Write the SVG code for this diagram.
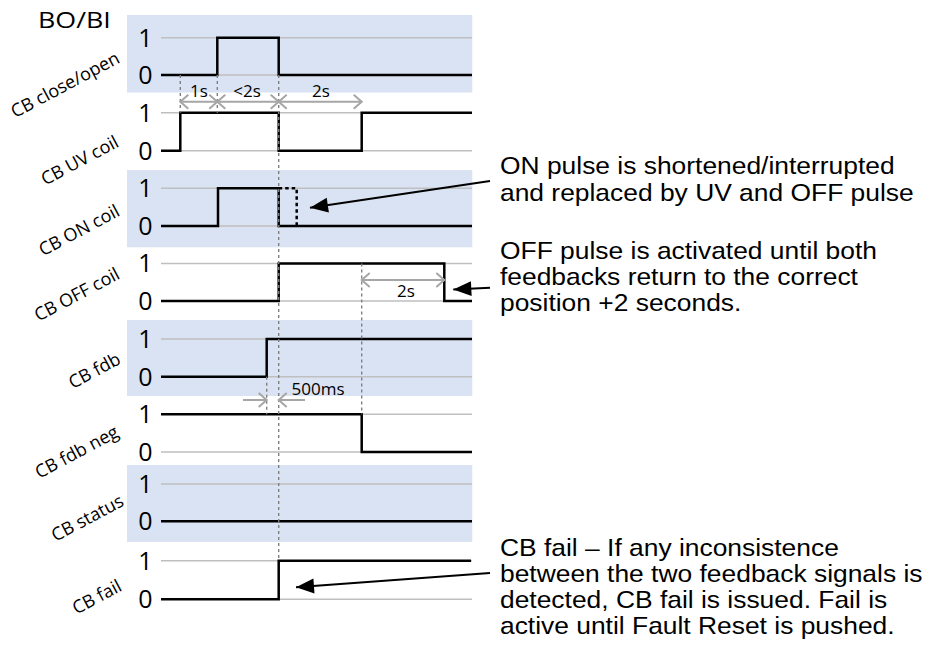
<svg xmlns="http://www.w3.org/2000/svg" width="931" height="655" viewBox="0 0 931 655">
<style>
.band{fill:#dae3f3}
.grid{stroke:#bfbfbf;stroke-width:1.5;fill:none}
.sig{stroke:#000;stroke-width:2.5;fill:none;stroke-linejoin:miter}
.sigd{stroke:#000;stroke-width:2.5;fill:none;stroke-dasharray:3.5 3}
.guide{stroke:#808080;stroke-width:1.4;fill:none;stroke-dasharray:3 3}
.dim{stroke:#a6a6a6;stroke-width:2;fill:none}
.dig{font-family:"Open Sans","DejaVu Sans",sans-serif;font-size:25px;fill:#000;text-anchor:middle}
.lab{font-family:"Open Sans","DejaVu Sans",sans-serif;font-size:18px;fill:#000;text-anchor:end}
.small{font-family:"Open Sans","DejaVu Sans",sans-serif;font-size:17px;fill:#000}
.note{font-family:"Liberation Sans",Arial,sans-serif;font-size:24px;fill:#000}
.arr{stroke:#000;stroke-width:2;fill:none}
</style>
<defs>
<marker id="chev" markerUnits="userSpaceOnUse" markerWidth="20" markerHeight="20" viewBox="-10 -10 20 20" refX="0" refY="0" orient="auto-start-reverse">
<path d="M-8,-7 L0,0 L-8,7" stroke="#a6a6a6" stroke-width="2" fill="none"/>
</marker>
<marker id="tri" markerUnits="userSpaceOnUse" markerWidth="24" markerHeight="20" viewBox="-20 -10 24 20" refX="0" refY="0" orient="auto">
<path d="M0,0 L-18,-7.5 L-18,7.5 Z" fill="#000"/>
</marker>
</defs>
<rect width="931" height="655" fill="#fff"/>
<text x="38" y="28" font-family="Open Sans, DejaVu Sans, sans-serif" font-size="22" transform="translate(38,0) scale(1.22,1) translate(-38,0)">BO/BI</text>

<g id="row-close-open">
<rect class="band" x="127" y="15" width="345.3" height="77.5"/>
<path class="grid" d="M161,37.7H472M161,75H472"/>
<text class="dig" x="145.5" y="46.5">1</text><text class="dig" x="145.5" y="84">0</text>
<text class="lab" transform="translate(121,62) rotate(-28)">CB close/open</text>
<path class="sig" d="M161,75H217.3V37.7H278.7V75H472"/>
</g>
<g id="row-uv-coil">
<path class="grid" d="M161,112.7H472M161,150.7H472"/>
<text class="dig" x="145.5" y="121.5">1</text><text class="dig" x="145.5" y="159.5">0</text>
<text class="lab" transform="translate(120,146) rotate(-28)">CB UV coil</text>
<path class="sig" d="M161,150.7H180.3V112.7H278.7V150.7H361.7V112.7H472"/>
</g>
<g id="row-on-coil">
<rect class="band" x="127" y="170" width="345.3" height="77.3"/>
<path class="grid" d="M161,188.3H472M161,226H472"/>
<text class="dig" x="145.5" y="197">1</text><text class="dig" x="145.5" y="235">0</text>
<text class="lab" transform="translate(121,215) rotate(-28)">CB ON coil</text>
<path class="sig" d="M161,226H218V188.3H278.7V226H472"/>
<path class="sigd" d="M278.7,188.3H296.7V226"/>
</g>
<g id="row-off-coil">
<path class="grid" d="M161,263.5H472M161,301H472"/>
<text class="dig" x="145.5" y="272">1</text><text class="dig" x="145.5" y="310">0</text>
<text class="lab" transform="translate(121,278) rotate(-28)">CB OFF coil</text>
<path class="sig" d="M161,301H278.7V263.5H444.3V301H472"/>
</g>
<g id="row-fdb">
<rect class="band" x="127" y="320" width="345.3" height="76"/>
<path class="grid" d="M161,339H472M161,376.7H472"/>
<text class="dig" x="145.5" y="348">1</text><text class="dig" x="145.5" y="385.5">0</text>
<text class="lab" transform="translate(122,363) rotate(-28)">CB fdb</text>
<path class="sig" d="M161,376.7H266.7V339H472"/>
</g>
<g id="row-fdb-neg">
<path class="grid" d="M161,414.3H472M161,452H472"/>
<text class="dig" x="145.5" y="423">1</text><text class="dig" x="145.5" y="461">0</text>
<text class="lab" transform="translate(120,436) rotate(-28)">CB fdb neg</text>
<path class="sig" d="M161,414.3H361.7V452H472"/>
</g>
<g id="row-status">
<rect class="band" x="127" y="465" width="345.3" height="77"/>
<path class="grid" d="M161,484H472M161,521.3H472"/>
<text class="dig" x="145.5" y="493">1</text><text class="dig" x="145.5" y="530">0</text>
<text class="lab" transform="translate(125,505) rotate(-28)">CB status</text>
<path class="sig" d="M161,521.3H472"/>
</g>
<g id="row-fail">
<path class="grid" d="M161,560.7H472M161,599.3H472"/>
<text class="dig" x="145.5" y="569.5">1</text><text class="dig" x="145.5" y="608">0</text>
<text class="lab" transform="translate(123,590) rotate(-28)">CB fail</text>
<path class="sig" d="M161,599.3H278.7V560.7H471"/>
</g>

<g id="guides">
<path class="guide" d="M180.3,75V112.7M217.3,75V112.7M278.7,75V560.7M361.7,263.5V414.3M266.7,376.7V414.3"/>
</g>

<g id="dimensions">
<path class="dim" d="M180.3,101.7H217.3" marker-start="url(#chev)" marker-end="url(#chev)"/>
<path class="dim" d="M217.3,101.7H278.7" marker-start="url(#chev)" marker-end="url(#chev)"/>
<path class="dim" d="M278.7,101.7H361.7" marker-start="url(#chev)" marker-end="url(#chev)"/>
<path class="dim" d="M361.7,280H444.3" marker-start="url(#chev)" marker-end="url(#chev)"/>
<path class="dim" d="M243,400H266.7" marker-end="url(#chev)"/>
<path class="dim" d="M305,400H278.7" marker-end="url(#chev)"/>
<text class="small" x="199" y="96.5" text-anchor="middle">1s</text>
<text class="small" x="247" y="96.5" text-anchor="middle">&lt;2s</text>
<text class="small" x="321" y="96.5" text-anchor="middle">2s</text>
<text class="small" x="406" y="296.5" text-anchor="middle">2s</text>
<text class="small" x="291.5" y="394.5">500ms</text>
</g>

<g id="connectors">
<path class="arr" d="M490,181L310,207.7" marker-end="url(#tri)"/>
<path class="arr" d="M490,287.7L453.3,289.5" marker-end="url(#tri)"/>
<path class="arr" d="M490,573L296,587.3" marker-end="url(#tri)"/>
</g>

<g id="notes" class="note" transform="translate(500,0) scale(1.1,1)">
<text x="0" y="174">ON pulse is shortened/interrupted</text>
<text x="0" y="201">and replaced by UV and OFF pulse</text>
<text x="0" y="259">OFF pulse is activated until both</text>
<text x="0" y="285">feedbacks return to the correct</text>
<text x="0" y="311">position +2 seconds.</text>
<text x="0" y="556">CB fail – If any inconsistence</text>
<text x="0" y="582">between the two feedback signals is</text>
<text x="0" y="608">detected, CB fail is issued. Fail is</text>
<text x="0" y="634">active until Fault Reset is pushed.</text>
</g>
</svg>
